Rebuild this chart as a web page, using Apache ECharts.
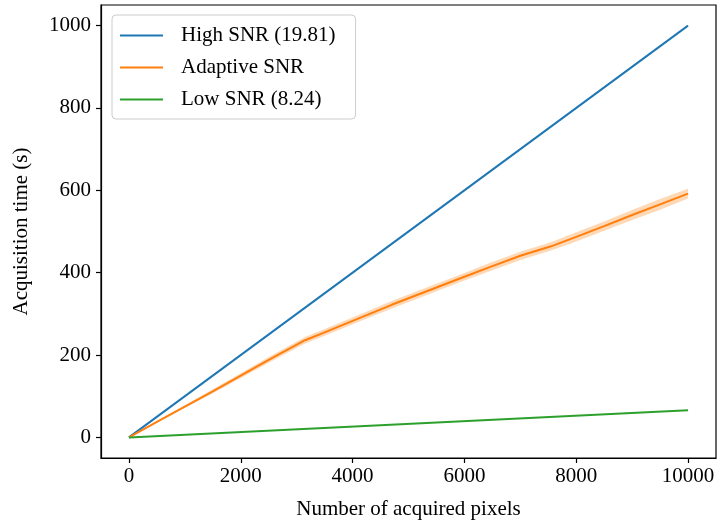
<!DOCTYPE html>
<html><head><meta charset="utf-8">
<script src="https://cdn.jsdelivr.net/npm/echarts@6/dist/echarts.min.js"></script>
<style>html,body{margin:0;padding:0;background:#fff}#c{width:727px;height:525px}</style>
</head><body><div id="c"></div>
<script>
var highX = [0, 10000];
var highY = [0, 1000];
var lowX = [0, 10000];
var lowY = [0, 66];
var adaptX = [0, 500, 1000, 1500, 2000, 2500, 3150, 3500, 4000, 4700, 5000, 5500, 6000, 6500, 7000, 7550, 8000, 8500, 9000, 9500, 10000];
var adaptY = [0, 38, 75, 112, 150, 188, 236, 255, 283, 322, 338, 364, 390, 416, 441, 464, 487, 513, 540, 566, 592];
var adaptLo = [0, 36, 72, 107, 144, 181, 228, 247, 275, 313, 329, 355, 381, 406, 431, 454, 476, 502, 528, 553, 580];
var adaptHi = [0, 40, 78, 117, 156, 195, 244, 263, 291, 331, 347, 373, 399, 426, 451, 474, 498, 524, 552, 579, 604];
var xTicks = [0, 2000, 4000, 6000, 8000, 10000];
var yTicks = [0, 200, 400, 600, 800, 1000];

var FONT = 'Liberation Serif';
function pairs(xs, ys){ return xs.map(function(x,i){ return [x, ys[i]]; }); }
var bandData = adaptX.map(function(x,i){ return [x, adaptLo[i], adaptHi[i]]; });
function plain(v){ return String(v); }

var chart = echarts.init(document.getElementById('c'), null, {renderer:'canvas'});
chart.setOption({
  animation: false,
  backgroundColor: '#fff',
  textStyle: {fontFamily: FONT},
  grid: {left: 101, right: 11, top: 5, bottom: 67, show: true, borderColor: '#000', borderWidth: 1.2, containLabel: false},
  legend: {
    left: 112, top: 15, orient: 'vertical',
    backgroundColor: 'rgba(255,255,255,0.8)', borderColor: '#cccccc', borderWidth: 1, borderRadius: 4,
    padding: [10, 20, 9, 8],
    itemWidth: 43, itemHeight: 2, itemGap: 11, icon: 'rect',
    textStyle: {fontFamily: FONT, fontSize: 21, color: '#000', padding: [0,0,0,13], lineHeight: 21},
    data: ['High SNR (19.81)', 'Adaptive SNR', 'Low SNR (8.24)']
  },
  xAxis: {
    type: 'value', min: -500, max: 10500, interval: 500,
    name: 'Number of acquired pixels', nameLocation: 'middle', nameGap: 41,
    nameTextStyle: {fontFamily: FONT, fontSize: 21, color: '#000'},
    axisLine: {show: true, onZero: false, lineStyle: {color: '#000', width: 1.2}},
    axisTick: {show: true, length: 5, inside: false, lineStyle: {color: '#000', width: 1.2}, customValues: xTicks},
    axisLabel: {fontFamily: FONT, fontSize: 21, color: '#000', margin: 8, customValues: xTicks, formatter: plain},
    splitLine: {show: false}
  },
  yAxis: {
    type: 'value', min: -50, max: 1050, interval: 50,
    name: 'Acquisition time (s)', nameLocation: 'middle', nameGap: 69, nameRotate: 90,
    nameTextStyle: {fontFamily: FONT, fontSize: 21, color: '#000'},
    axisLine: {show: true, onZero: false, lineStyle: {color: '#000', width: 1.2}},
    axisTick: {show: true, length: 5, lineStyle: {color: '#000', width: 1.2}, customValues: yTicks},
    axisLabel: {fontFamily: FONT, fontSize: 21, color: '#000', margin: 10, customValues: yTicks, formatter: plain},
    splitLine: {show: false}
  },
  series: [
    {
      type: 'custom', name: 'band', silent: true, z: 1,
      data: bandData,
      renderItem: function(params, api){
        if (params.dataIndex !== 0) return;
        var pts = [];
        for (var i = 0; i < bandData.length; i++) pts.push(api.coord([bandData[i][0], bandData[i][2]]));
        for (var j = bandData.length - 1; j >= 0; j--) pts.push(api.coord([bandData[j][0], bandData[j][1]]));
        return {type: 'polygon', shape: {points: pts}, style: {fill: 'rgba(255,127,14,0.3)', stroke: null}};
      },
      encode: {x: 0, y: 1}
    },
    {name: 'High SNR (19.81)', type: 'line', data: pairs(highX, highY), showSymbol: false, symbol: 'none',
      lineStyle: {color: '#1f77b4', width: 2}, itemStyle: {color: '#1f77b4'}, z: 3},
    {name: 'Adaptive SNR', type: 'line', data: pairs(adaptX, adaptY), showSymbol: false, symbol: 'none',
      lineStyle: {color: '#ff7f0e', width: 2}, itemStyle: {color: '#ff7f0e'}, z: 3},
    {name: 'Low SNR (8.24)', type: 'line', data: pairs(lowX, lowY), showSymbol: false, symbol: 'none',
      lineStyle: {color: '#2ca02c', width: 2}, itemStyle: {color: '#2ca02c'}, z: 3}
  ]
});
</script></body></html>
